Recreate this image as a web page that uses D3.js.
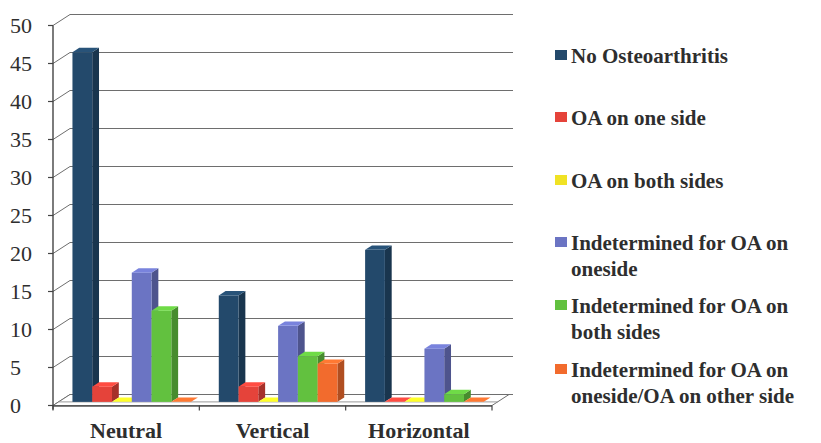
<!DOCTYPE html>
<html>
<head>
<meta charset="utf-8">
<script src="https://cdn.jsdelivr.net/npm/d3@7"></script>
</head>
<body style="margin:0">
<svg id="s" width="821" height="443" font-family="Times New Roman"></svg>
<script>
// Positions of the lumbar spine and the OA status groups
const categories = ["Neutral", "Vertical", "Horizontal"];
const seriesNames = [
  "No Osteoarthritis",
  "OA on one side",
  "OA on both sides",
  "Indetermined for OA on one side",
  "Indetermined for OA on both sides",
  "Indetermined for OA on one side/OA on other side"
];
// Legend text, split over lines
const legendLines = [
  ["No Osteoarthritis"],
  ["OA on one side"],
  ["OA on both sides"],
  ["Indetermined for OA on", "oneside"],
  ["Indetermined for OA on", "both sides"],
  ["Indetermined for OA on", "oneside/OA on other side"]
];
// One array per series, in category order
const noOA          = [46, 14, 20];
const oaOneSide     = [2, 2, 0];
const oaBothSides   = [0, 0, 0];
const indetOneSide  = [17, 10, 7];
const indetBoth     = [12, 6, 1];
const indetMixed    = [0, 5, 0];
const seriesValues = [noOA, oaOneSide, oaBothSides, indetOneSide, indetBoth, indetMixed];
const seriesColors = ["#23496b", "#e5433a", "#f0e224", "#6b74c3", "#62c13f", "#f26b2d"];
const yTicks = [0, 5, 10, 15, 20, 25, 30, 35, 40, 45, 50];

const svg = d3.select("#s");

// Serif text helper
function label(parent, x, yy, str, size, bold) {
  return parent.append("text")
    .attr("x", x).attr("y", yy)
    .attr("font-family", "Times New Roman")
    .style("font-family", "'Times New Roman', 'Liberation Serif', Tinos")
    .style("font-size", size + "px")
    .style("font-weight", bold ? "bold" : "normal")
    .style("fill", "#2e2e2e")
    .text(str);
}

// Front plane of the plot and the depth vector of the 3-D box
const left = 53, right = 492;
const DX = 17, DY = 11;
const y = d3.scaleLinear().domain([0, 50]).range([405.5, 25.5]);
const x0 = d3.scaleBand().domain(categories).range([left, right]).paddingInner(0).paddingOuter(0);
const x1 = d3.scaleBand().domain(seriesNames).range([0, x0.bandwidth()]).paddingInner(0).paddingOuter(0.7);

const gridColor = "#6e6e6e";
const g = svg.append("g");

// Back-wall gridlines with the diagonal from each front tick
yTicks.forEach(v => {
  g.append("line")
    .attr("x1", left + DX).attr("x2", right + DX + 4)
    .attr("y1", y(v) - DY).attr("y2", y(v) - DY)
    .attr("stroke", gridColor).attr("stroke-width", 1);
  g.append("line")
    .attr("x1", left).attr("x2", left + DX)
    .attr("y1", y(v)).attr("y2", y(v) - DY)
    .attr("stroke", gridColor).attr("stroke-width", 1);
});

// Floor, with a faint line where the bars stand
g.append("path")
  .attr("d", `M${left},${y(0)} L${right},${y(0)} L${right + DX},${y(0) - DY} L${left + DX},${y(0) - DY} Z`)
  .attr("fill", "#fff").attr("stroke", gridColor).attr("stroke-width", 1);
g.append("line")
  .attr("x1", left + 6).attr("x2", right + 6)
  .attr("y1", y(0) - 3.6).attr("y2", y(0) - 3.6)
  .attr("stroke", "#9a9a9a").attr("stroke-width", 1);
g.append("line")
  .attr("x1", left).attr("x2", right)
  .attr("y1", y(0) + 0.5).attr("y2", y(0) + 0.5)
  .attr("stroke", "#555").attr("stroke-width", 1.3);

// Bars, painted left to right so each front face covers the previous side face
const t1 = 0.33, depth = 0.4;
const offX = t1 * DX, offY = t1 * DY;
const bdx = depth * DX, bdy = depth * DY;

categories.forEach((cat, ci) => {
  seriesNames.forEach((s, si) => {
    const v = seriesValues[si][ci];
    const base = d3.color(seriesColors[si]);
    const xf = x0(cat) + x1(s) + offX;
    const w = x1.bandwidth();
    const yb = y(0) - offY;
    const yt = y(v) - offY;
    const bar = g.append("g");
    // side face
    bar.append("path")
      .attr("d", `M${xf + w},${yt} L${xf + w + bdx},${yt - bdy} L${xf + w + bdx},${yb - bdy} L${xf + w},${yb} Z`)
      .attr("fill", base.darker(0.9));
    // front face
    if (v > 0) {
      bar.append("rect")
        .attr("x", xf).attr("y", yt)
        .attr("width", w).attr("height", yb - yt)
        .attr("fill", base);
    }
    // top face
    bar.append("path")
      .attr("d", `M${xf},${yt} L${xf + w},${yt} L${xf + w + bdx},${yt - bdy} L${xf + bdx},${yt - bdy} Z`)
      .attr("fill", base.brighter(0.35));
  });
});

// Front value axis
const axisColor = "#444";
g.append("line")
  .attr("x1", left).attr("x2", left)
  .attr("y1", y(50)).attr("y2", y(0) + 4)
  .attr("stroke", axisColor).attr("stroke-width", 1.4);
yTicks.forEach(v => {
  g.append("line")
    .attr("x1", left - 5).attr("x2", left)
    .attr("y1", y(v)).attr("y2", y(v))
    .attr("stroke", axisColor).attr("stroke-width", 1.2);
  label(g, 10, y(v) + 7.5, String(v), 22, false);
});

// Category ticks and labels on the front edge of the floor
const bounds = categories.map(c => x0(c)).concat([right]);
bounds.forEach(bx => {
  g.append("line")
    .attr("x1", bx).attr("x2", bx)
    .attr("y1", y(0)).attr("y2", y(0) + 5)
    .attr("stroke", axisColor).attr("stroke-width", 1.2);
});
categories.forEach(cat => {
  label(g, x0(cat) + x0.bandwidth() / 2, 438, cat, 22, true)
    .attr("text-anchor", "middle");
});

// Legend
const legend = svg.append("g");
const legendBaselines = [63, 125, 188, 250, 313, 377];
seriesNames.forEach((s, i) => {
  const by = legendBaselines[i];
  legend.append("rect")
    .attr("x", 555).attr("y", by - 13)
    .attr("width", 12).attr("height", 10)
    .attr("fill", seriesColors[i]);
  legendLines[i].forEach((line, li) => {
    label(legend, 571, by + li * 26, line, 21, true);
  });
});
</script>
</body>
</html>
